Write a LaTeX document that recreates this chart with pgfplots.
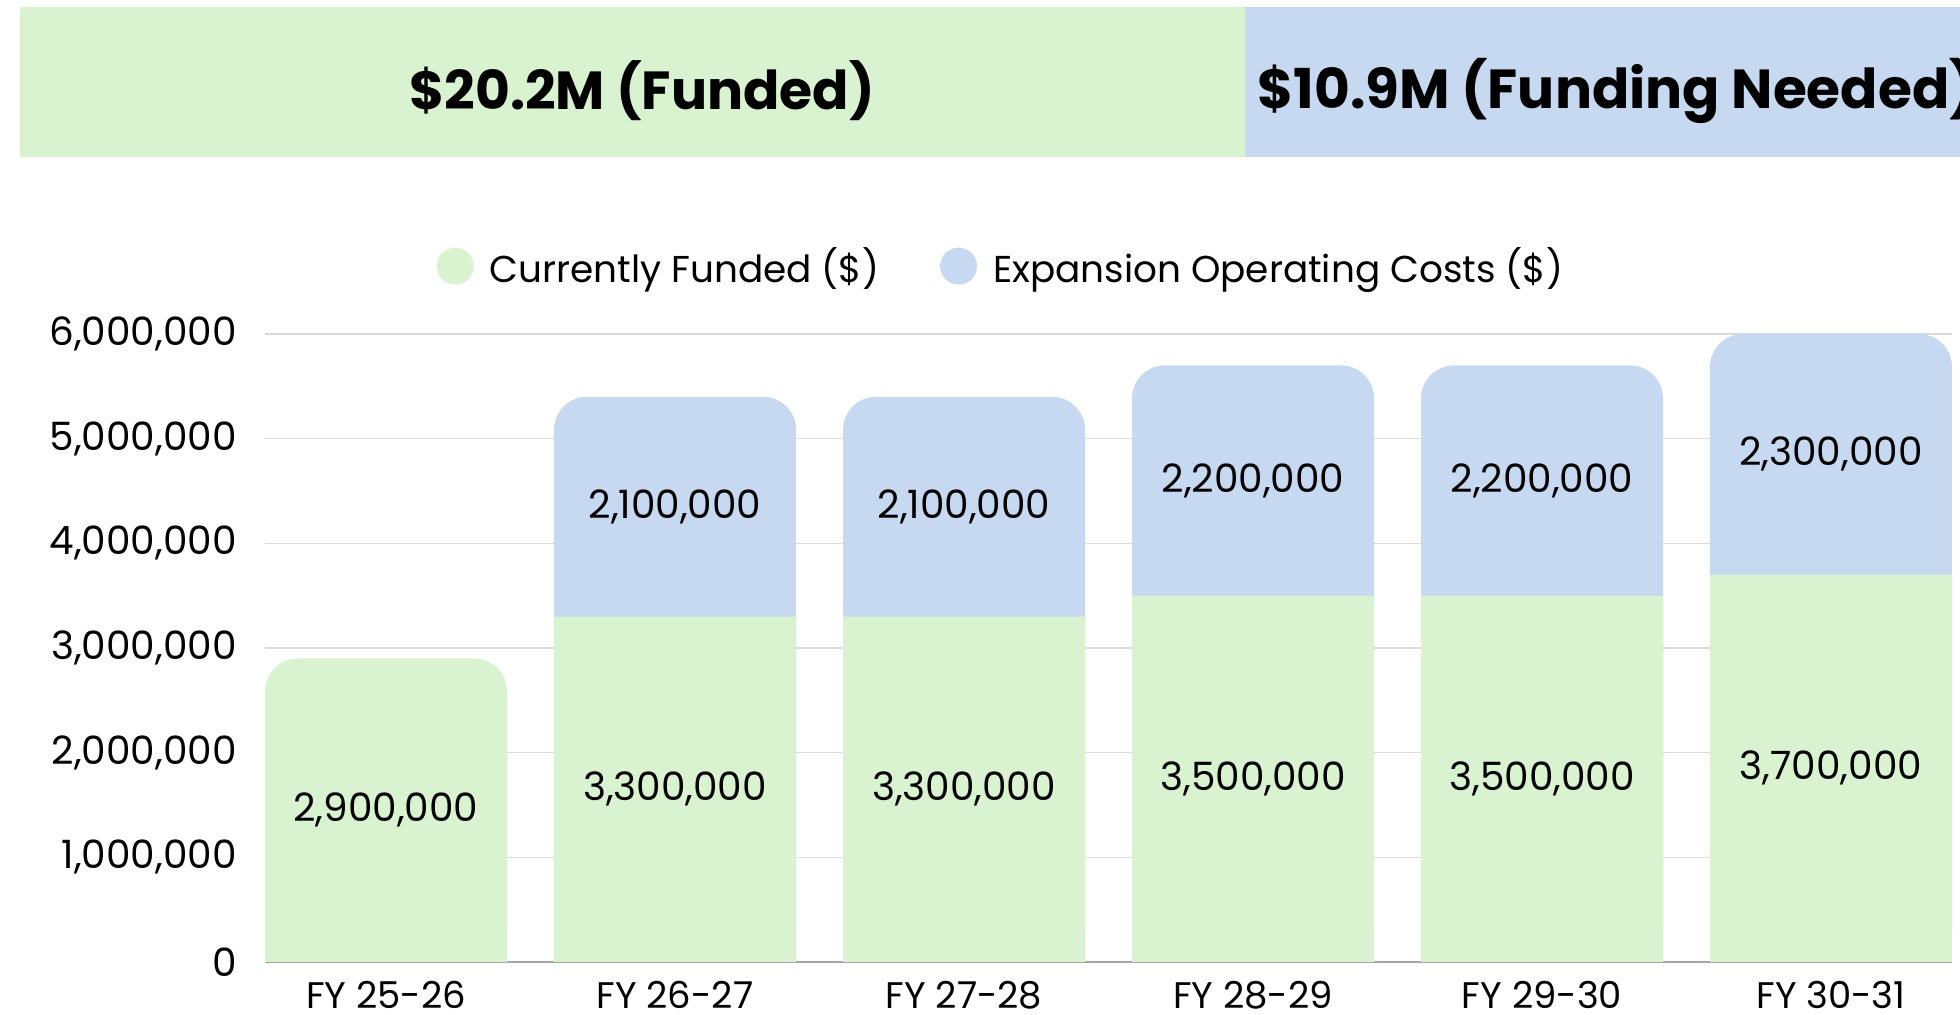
\documentclass[border=0pt]{standalone}
\usepackage{pgfplots}
\pgfplotsset{compat=1.18}
\usepackage{fontspec}
\setmainfont{Poppins}
\definecolor{fundgreen}{HTML}{D9F2D0}
\definecolor{expblue}{HTML}{C6D9F0}
\definecolor{gridgray}{HTML}{DADADA}
\definecolor{axisgray}{HTML}{A6A6A6}
\newcommand{\lblfont}{\fontsize{19.5}{24}\selectfont}
\newcommand{\legfont}{\fontsize{18.7}{23}\selectfont}
\newcommand{\xfont}{\fontsize{18.5}{22}\selectfont}
\begin{document}
\begin{tikzpicture}[x=1pt,y=1pt]
\useasboundingbox (0,0) rectangle (980,507.5);
\fill[fundgreen] (10,429) rectangle (622.5,504);
\fill[expblue] (622.5,429) rectangle (990,504);
\node[font=\fontsize{26.8}{32}\selectfont\bfseries, inner sep=0pt] at (321,462) {\$20.2M (Funded)};
\node[font=\fontsize{27.5}{32}\selectfont\bfseries, anchor=west, inner sep=0pt] at (628.5,462) {\$10.9M (Funding Needed)};
\begin{axis}[
  at={(132.5pt,26.5pt)}, anchor=south west,
  scale only axis, width=843.5pt, height=314pt,
  xmin=-0.4187, xmax=5.4187, ymin=0, ymax=6000000,
  scaled y ticks=false,
  axis line style={draw=none},
  tick style={draw=none},
  xtick={0,1,2,3,4,5},
  xticklabels={FY 25-26,FY 26-27,FY 27-28,FY 28-29,FY 29-30,FY 30-31},
  ytick={0,1000000,2000000,3000000,4000000,5000000,6000000},
  yticklabels={0,{1,000,000},{2,000,000},{3,000,000},{4,000,000},{5,000,000},{6,000,000}},
  ymajorgrids, grid style={gridgray, line width=0.75pt},
  extra y ticks={0}, extra y tick labels={},
  extra y tick style={grid style={axisgray, line width=0.9pt}},
  yticklabel style={font=\lblfont, inner sep=0pt, xshift=-14pt, anchor=east},
  xticklabel style={font=\xfont, inner sep=0pt, yshift=-9.5pt, anchor=north},
  clip=false,
  legend columns=2,
  legend cell align=left,
  legend style={at={(axis description cs:0.4368,1.108)}, anchor=center, draw=none, fill=none, font=\legfont,
    /tikz/every odd column/.append style={column sep=6pt},
    /tikz/every even column/.append style={column sep=28.5pt}},
  legend image code/.code={\fill[#1] (0pt,0pt) circle (9.25pt);},
]
\addlegendimage{fill=fundgreen, draw=none}
\addlegendentry{Currently Funded (\$)}
\addlegendimage{fill=expblue, draw=none}
\addlegendentry{Expansion Operating Costs (\$)}
% totals (rounded tops)
\addplot[ybar, bar width=121pt, bar shift=0pt, fill=expblue, draw=none, rounded corners=16.5pt]
  coordinates {(1,5400000) (2,5400000) (3,5700000) (4,5700000) (5,6000000)};
\addplot[ybar, bar width=121pt, bar shift=0pt, fill=fundgreen, draw=none, rounded corners=16.5pt]
  coordinates {(0,2900000)};
% funded segments (square)
\addplot[ybar, bar width=121pt, bar shift=0pt, fill=fundgreen, draw=none]
  coordinates {(0,2500000) (1,3300000) (2,3300000) (3,3500000) (4,3500000) (5,3700000)};
% value labels
\addplot[draw=none, mark=none, nodes near coords, point meta=explicit symbolic,
  every node near coord/.append style={anchor=center, inner sep=0pt, font=\lblfont}]
  table[meta=label] {
x y label
0 1450000 2,900,000
1 1650000 3,300,000
2 1650000 3,300,000
3 1750000 3,500,000
4 1750000 3,500,000
5 1850000 3,700,000
1 4350000 2,100,000
2 4350000 2,100,000
3 4600000 2,200,000
4 4600000 2,200,000
5 4850000 2,300,000
};
\end{axis}
\end{tikzpicture}
\end{document}
